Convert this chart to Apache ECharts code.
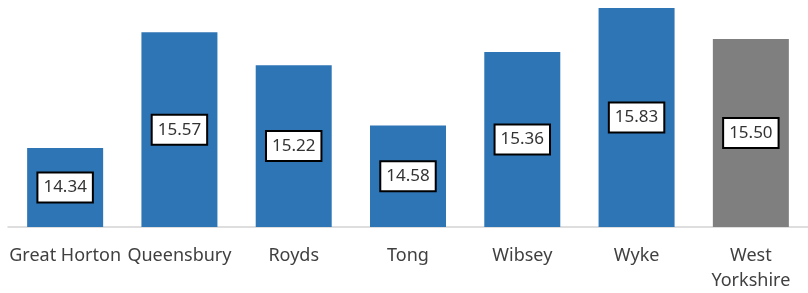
<!DOCTYPE html>
<html>
<head>
<meta charset="utf-8">
<script src="https://cdn.jsdelivr.net/npm/echarts@6/dist/echarts.min.js"></script>
<style>
  html, body { margin: 0; padding: 0; background: #fff; }
  #chart { width: 808px; height: 293px; }
</style>
</head>
<body>
<div id="chart"></div>
<script>
const categories = ["Great Horton", "Queensbury", "Royds", "Tong", "Wibsey", "Wyke", "West\nYorkshire"];
const values = [14.34, 15.57, 15.22, 14.58, 15.36, 15.83, 15.50];
const barColors = ["#2E75B6", "#2E75B6", "#2E75B6", "#2E75B6", "#2E75B6", "#2E75B6", "#7F7F7F"];

const chart = echarts.init(document.getElementById("chart"));

chart.setOption({
  animation: false,
  grid: { left: 8, width: 801, top: 6, bottom: 65.5 },
  xAxis: {
    type: "category",
    data: categories,
    axisTick: { show: false },
    axisLine: { lineStyle: { color: "#d4d4d4", width: 1.5 } },
    axisLabel: {
      interval: 0,
      margin: 16,
      fontFamily: "Noto Sans",
      fontSize: 18,
      lineHeight: 25,
      color: "#404040",
    },
  },
  yAxis: {
    type: "value",
    min: 13.5,
    max: 15.85,
    show: false,
  },
  series: [
    {
      type: "bar",
      barWidth: 76,
      data: values.map((value, index) => ({
        value,
        itemStyle: { color: barColors[index] },
      })),
      label: {
        show: true,
        position: "inside",
        formatter: (p) => p.value.toFixed(2),
        fontFamily: "Noto Sans",
        fontSize: 17,
        lineHeight: 20,
        color: "#333",
        backgroundColor: "#fff",
        borderColor: "#000",
        borderWidth: 2,
        padding: [4, 5, 4, 5],
      },
    },
  ],
});
</script>
</body>
</html>
